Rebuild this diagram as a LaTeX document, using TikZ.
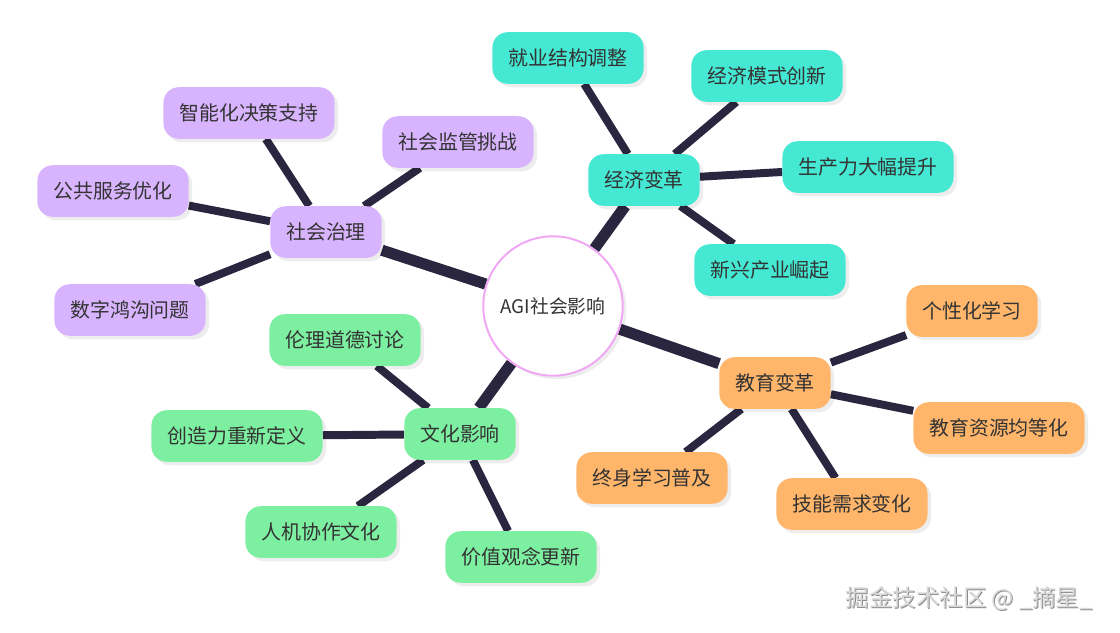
\documentclass[tikz,border=0pt]{standalone}
\usepackage{fontspec}
\setmainfont{Noto Sans CJK SC}
\usetikzlibrary{shadows,backgrounds}
\definecolor{econ}{HTML}{45E8D3}
\definecolor{gov}{HTML}{D8B4FE}
\definecolor{cult}{HTML}{7DEFA1}
\definecolor{edu}{HTML}{FFB66B}
\definecolor{edge}{HTML}{2B2640}
\definecolor{ring}{HTML}{F0A8F5}
\definecolor{txt}{HTML}{333333}
\tikzset{
	topic/.style = {rectangle, rounded corners = 13pt,
		inner xsep = 13.5pt, minimum height = 44pt,
		text = txt, font = \fontsize{17}{17}\selectfont,
		drop shadow = {shadow xshift = 3pt, shadow yshift = -3pt,
			fill = black, opacity = 0.07}},
	trunk/.style = {draw = edge, line width = 9.5pt},
	twig/.style = {draw = edge, line width = 6.8pt}
}

\begin{document}
\begin{tikzpicture}[x = 0.03cm, y = -0.03cm]
\useasboundingbox (0,0) rectangle (1120,632);
\node[circle, draw = ring, line width = 1.7pt, fill = white,
	minimum size = 119pt, text = txt,
	font = \fontsize{16}{16}\selectfont,
	drop shadow = {shadow xshift = 3pt, shadow yshift = -3pt,
		fill = black, opacity = 0.07}] (agi) at (553,306) {AGI社会影响};

\node[topic, fill = econ] (jj) at (644,180) {经济变革};
\node[topic, fill = econ] (jj1) at (568,58) {就业结构调整};
\node[topic, fill = econ] (jj2) at (767,76) {经济模式创新};
\node[topic, fill = econ] (jj3) at (868,167) {生产力大幅提升};
\node[topic, fill = econ] (jj4) at (770,270) {新兴产业崛起};

\node[topic, fill = gov] (zl) at (326,232) {社会治理};
\node[topic, fill = gov] (zl1) at (249,113) {智能化决策支持};
\node[topic, fill = gov] (zl2) at (458,142) {社会监管挑战};
\node[topic, fill = gov] (zl3) at (113,191) {公共服务优化};
\node[topic, fill = gov] (zl4) at (130,310) {数字鸿沟问题};

\node[topic, fill = cult] (wh) at (460,434) {文化影响};
\node[topic, fill = cult] (wh1) at (345,340) {伦理道德讨论};
\node[topic, fill = cult] (wh2) at (237,436) {创造力重新定义};
\node[topic, fill = cult] (wh3) at (321,532) {人机协作文化};
\node[topic, fill = cult] (wh4) at (521,557) {价值观念更新};

\node[topic, fill = edu] (jy) at (775,383) {教育变革};
\node[topic, fill = edu] (jy1) at (972,311) {个性化学习};
\node[topic, fill = edu] (jy2) at (999,428) {教育资源均等化};
\node[topic, fill = edu] (jy3) at (652,478) {终身学习普及};
\node[topic, fill = edu] (jy4) at (852,504) {技能需求变化};

\begin{scope}[on background layer]
\foreach \b in {jj, zl, wh, jy}
	\draw[trunk] (agi) -- (\b);
\foreach \b in {jj, zl, wh, jy}
	\foreach \i in {1,...,4}
		\draw[twig] (\b) -- (\b\i);
\end{scope}

\node[text = black!45, font = \fontsize{20}{20}\selectfont]
	(mark shade) at (970,600) {掘金技术社区 @ \_摘星\_};
\node[text = black!15, font = \fontsize{20}{20}\selectfont]
	(mark) at (969,599) {掘金技术社区 @ \_摘星\_};
\end{tikzpicture}
\end{document}
